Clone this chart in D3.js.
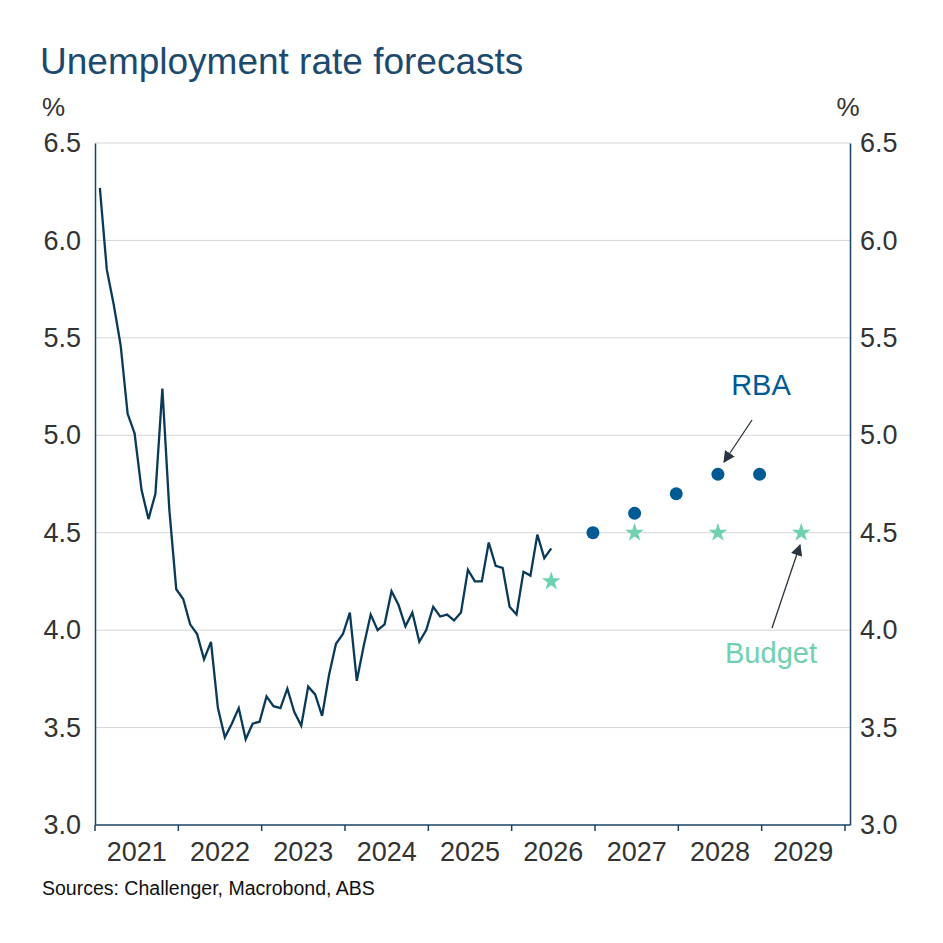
<!DOCTYPE html>
<html><head><meta charset="utf-8">
<script src="https://cdn.jsdelivr.net/npm/d3@7"></script>
<style>body{margin:0;background:#fff;font-family:Arial,"Liberation Sans",sans-serif}</style>
</head><body><svg id="c" width="943" height="943"></svg>
<script>
// Monthly unemployment rate from Jan 2021
const actual = [
  6.27,5.85,5.67,5.46,5.11,5.01,4.72,4.57,4.70,5.24,4.62,4.21,
  4.16,4.03,3.98,3.85,3.94,3.60,3.45,3.52,3.60,3.44,3.52,3.53,
  3.66,3.61,3.60,3.70,3.58,3.51,3.71,3.67,3.56,3.77,3.93,3.98,
  4.09,3.74,3.92,4.08,4.00,4.03,4.20,4.13,4.02,4.09,3.94,4.00,
  4.12,4.07,4.08,4.05,4.09,4.31,4.25,4.25,4.45,4.33,4.32,4.12,
  4.08,4.30,4.28,4.49,4.37,4.42];
// forecasts: month index from Jan 2021
const rba = [{m:71,v:4.5},{m:77,v:4.6},{m:83,v:4.7},{m:89,v:4.8},{m:95,v:4.8}];
const budget = [{m:65,v:4.25},{m:77,v:4.5},{m:89,v:4.5},{m:101,v:4.5}];
const years = [2021,2022,2023,2024,2025,2026,2027,2028,2029];
const yTicks = [3.0,3.5,4.0,4.5,5.0,5.5,6.0,6.5];

const svg = d3.select("#c");
const L=95, R=850, T=143, B=825;
const x = d3.scaleLinear().domain([0,108]).range([L,845]);
const y = d3.scaleLinear().domain([3,6.5]).range([B,T]);
const xm = m => x(m+0.7);
const navy="#1b4263", blue="#005a94", green="#6fd1b0";

svg.append("text").attr("x",40).attr("y",74).attr("fill","#1c4a6e")
  .attr("font-size",37).text("Unemployment rate forecasts");
svg.append("text").attr("x",42).attr("y",116).attr("font-size",26).attr("fill","#333").text("%");
svg.append("text").attr("x",848).attr("y",116).attr("text-anchor","middle").attr("font-size",26).attr("fill","#333").text("%");

// grid
svg.append("g").selectAll("line").data(yTicks.slice(1)).join("line")
  .attr("x1",L).attr("x2",R).attr("y1",d=>y(d)).attr("y2",d=>y(d))
  .attr("stroke","#d6d6d6").attr("stroke-width",1);

const yl = svg.append("g").attr("transform",`translate(${L},0)`)
  .call(d3.axisLeft(y).tickValues(yTicks).tickFormat(d3.format(".1f")).tickSize(0).tickPadding(14));
const yr = svg.append("g").attr("transform",`translate(${R},0)`)
  .call(d3.axisRight(y).tickValues(yTicks).tickFormat(d3.format(".1f")).tickSize(0).tickPadding(10));
[yl,yr].forEach(g=>{g.select(".domain").attr("stroke",navy).attr("stroke-width",1.5);
  g.selectAll("text").attr("font-size",27).attr("fill","#333").attr("font-family","Arial,Liberation Sans,sans-serif");});

const xa = svg.append("g").attr("transform",`translate(0,${B})`);
xa.append("line").attr("x1",L).attr("x2",R).attr("stroke",navy).attr("stroke-width",1.5);
xa.selectAll("line.t").data(d3.range(0,10)).join("line").attr("class","t")
  .attr("x1",d=>x(d*12)).attr("x2",d=>x(d*12)).attr("y1",0).attr("y2",6).attr("stroke",navy).attr("stroke-width",1.5);
xa.selectAll("text").data(years).join("text")
  .attr("x",(d,i)=>x(i*12+6)).attr("y",36).attr("text-anchor","middle")
  .attr("font-size",27).attr("fill","#333").text(d=>d);

svg.append("path").datum(actual)
  .attr("d",d3.line().x((d,i)=>xm(i)).y(d=>y(d)))
  .attr("fill","none").attr("stroke","#0a3a5a").attr("stroke-width",2.3);

svg.append("g").selectAll("circle").data(rba).join("circle")
  .attr("cx",d=>xm(d.m)).attr("cy",d=>y(d.v)).attr("r",6.5).attr("fill",blue);
const star = d3.symbol().type(d3.symbolStar).size(110);
svg.append("g").selectAll("path").data(budget).join("path")
  .attr("transform",d=>`translate(${xm(d.m)},${y(d.v)})`).attr("d",star).attr("fill",green);

svg.append("defs").append("marker").attr("id","ah").attr("viewBox","0 0 10 10")
  .attr("refX",9).attr("refY",5).attr("markerWidth",9).attr("markerHeight",9).attr("orient","auto")
  .append("path").attr("d","M0,0L10,5L0,10z").attr("fill","#2a3540");
svg.append("text").attr("x",761).attr("y",395).attr("text-anchor","middle").attr("font-size",29).attr("fill",blue).text("RBA");
svg.append("line").attr("x1",752).attr("y1",420).attr("x2",724).attr("y2",462)
  .attr("stroke","#2a3540").attr("stroke-width",1.3).attr("marker-end","url(#ah)");
svg.append("text").attr("x",771).attr("y",663).attr("text-anchor","middle").attr("font-size",29).attr("fill",green).text("Budget");
svg.append("line").attr("x1",772).attr("y1",628).attr("x2",800).attr("y2",545)
  .attr("stroke","#2a3540").attr("stroke-width",1.3).attr("marker-end","url(#ah)");

svg.append("text").attr("x",42).attr("y",895).attr("font-size",19.5).attr("fill","#111")
  .text("Sources: Challenger, Macrobond, ABS");
</script></body></html>
